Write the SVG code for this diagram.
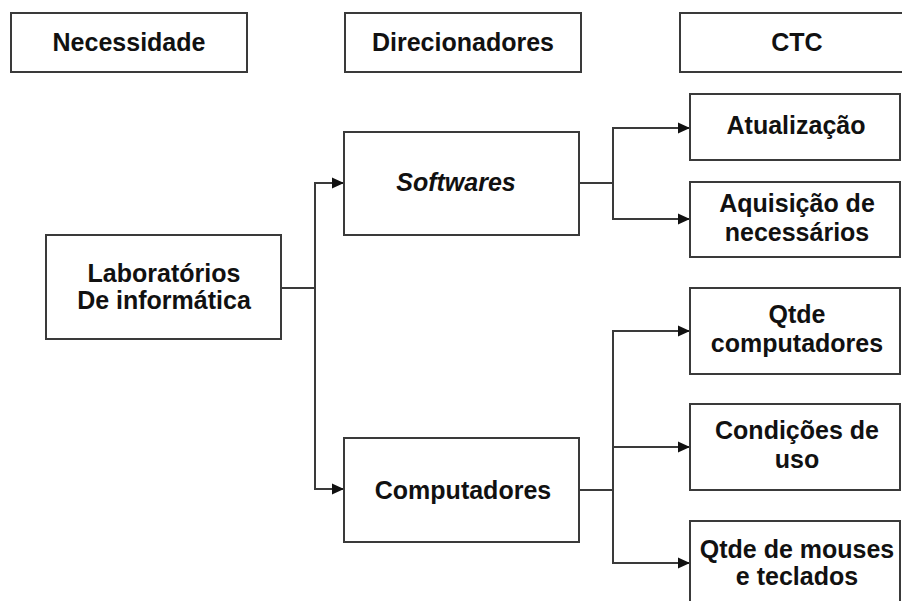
<svg xmlns="http://www.w3.org/2000/svg" width="902" height="601" viewBox="0 0 902 601">
  <style>
    .box { fill: #ffffff; stroke: #3a3a3a; stroke-width: 2; }
    .lbl { font-family: "Liberation Sans", Arial, sans-serif; font-size: 25px; font-weight: bold; fill: #111111; text-anchor: middle; }
    .it { font-style: italic; }
    .wire { fill: none; stroke: #3a3a3a; stroke-width: 2; }
  </style>
  <defs>
    <marker id="arrow" markerUnits="userSpaceOnUse" markerWidth="14" markerHeight="12" refX="13" refY="6" orient="auto">
      <path d="M1,0.5 L13,6 L1,11.5 Z" fill="#111111"/>
    </marker>
  </defs>
  <rect width="902" height="601" fill="#ffffff"/>

  <!-- column headers -->
  <g id="hdr-necessidade">
    <rect class="box" x="11" y="13" width="236" height="59"/>
    <text class="lbl" x="129" y="51">Necessidade</text>
  </g>
  <g id="hdr-direcionadores">
    <rect class="box" x="345" y="13" width="236" height="59"/>
    <text class="lbl" x="463" y="51">Direcionadores</text>
  </g>
  <g id="hdr-ctc">
    <rect class="box" x="680" y="13" width="236" height="59"/>
    <text class="lbl" x="797" y="51">CTC</text>
  </g>

  <!-- connectors -->
  <g id="connectors">
    <path class="wire" d="M281,288 H315 V183 H344" marker-end="url(#arrow)"/>
    <path class="wire" d="M315,288 V489 H344" marker-end="url(#arrow)"/>
    <path class="wire" d="M579,183 H613 V128 H690" marker-end="url(#arrow)"/>
    <path class="wire" d="M613,183 V219 H690" marker-end="url(#arrow)"/>
    <path class="wire" d="M579,490 H613 V331 H690" marker-end="url(#arrow)"/>
    <path class="wire" d="M613,490 V447 H690" marker-end="url(#arrow)"/>
    <path class="wire" d="M613,490 V563 H690" marker-end="url(#arrow)"/>
  </g>

  <!-- need -->
  <g id="laboratorios">
    <rect class="box" x="46" y="235" width="235" height="104"/>
    <text class="lbl" x="164" y="282">Laboratórios</text>
    <text class="lbl" x="164" y="309">De informática</text>
  </g>

  <!-- drivers -->
  <g id="softwares">
    <rect class="box" x="344" y="132" width="235" height="103"/>
    <text class="lbl it" x="456" y="191">Softwares</text>
  </g>
  <g id="computadores">
    <rect class="box" x="344" y="438" width="235" height="104"/>
    <text class="lbl" x="463" y="499">Computadores</text>
  </g>

  <!-- CTC items -->
  <g id="atualizacao">
    <rect class="box" x="690" y="94" width="210" height="66"/>
    <text class="lbl" x="796" y="134">Atualização</text>
  </g>
  <g id="aquisicao">
    <rect class="box" x="690" y="182" width="210" height="75"/>
    <text class="lbl" x="797" y="212">Aquisição de</text>
    <text class="lbl" x="797" y="241">necessários</text>
  </g>
  <g id="qtde-computadores">
    <rect class="box" x="690" y="288" width="210" height="86"/>
    <text class="lbl" x="797" y="323">Qtde</text>
    <text class="lbl" x="797" y="352">computadores</text>
  </g>
  <g id="condicoes">
    <rect class="box" x="690" y="404" width="210" height="86"/>
    <text class="lbl" x="797" y="439">Condições de</text>
    <text class="lbl" x="797" y="468">uso</text>
  </g>
  <g id="qtde-mouses">
    <rect class="box" x="690" y="521" width="210" height="86"/>
    <text class="lbl" x="797" y="558">Qtde de mouses</text>
    <text class="lbl" x="797" y="585">e teclados</text>
  </g>
</svg>
